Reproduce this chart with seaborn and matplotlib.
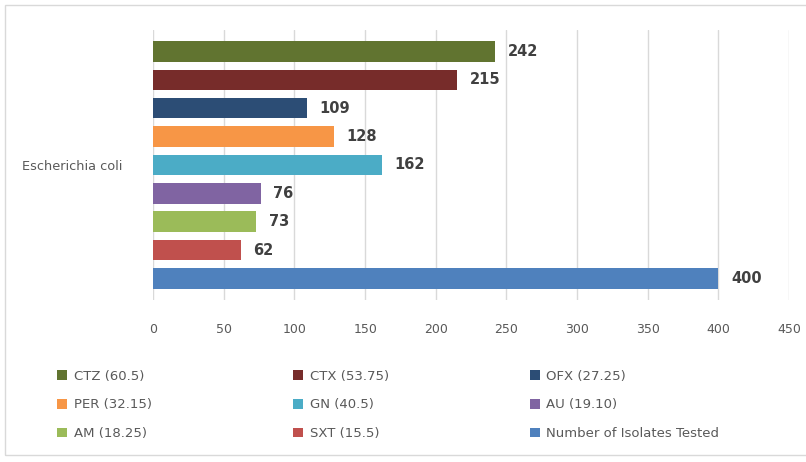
import matplotlib
matplotlib.use("Agg")
import matplotlib.pyplot as plt
import pandas as pd
import seaborn as sns
from matplotlib.patches import Rectangle

sns.set_style("white")
plt.rcParams["font.family"] = ["DejaVu Sans"]

organism = "Escherichia coli"
series = [
    "CTZ (60.5)", "CTX (53.75)", "OFX (27.25)",
    "PER (32.15)", "GN (40.5)", "AU (19.10)",
    "AM (18.25)", "SXT (15.5)", "Number of Isolates Tested",
]
values = [242, 215, 109, 128, 162, 76, 73, 62, 400]
colors = [
    "#617430", "#772C2A", "#2C4D75",
    "#F79646", "#4BACC6", "#8064A2",
    "#9BBB59", "#C0504D", "#4F81BD",
]

df = pd.DataFrame({"organism": organism, "series": series, "value": values})

fig = plt.figure(figsize=(8.06, 4.62), dpi=100)
ax = fig.add_axes([0.19, 0.351, 0.789, 0.584])

sns.barplot(
    data=df, x="value", y="organism", hue="series",
    hue_order=series, palette=colors, orient="h",
    width=0.947, gap=0.28, ax=ax, saturation=1, linewidth=0,
)

ax.set_xlim(0, 450)
ax.set_xticks(range(0, 451, 50))
ax.grid(axis="x", color="#d9d9d9", linewidth=1)
ax.set_axisbelow(True)
for s in ax.spines.values():
    s.set_visible(False)
ax.set_xlabel("")
ax.set_ylabel("")
ax.tick_params(axis="x", colors="#595959", labelsize=9, length=0, pad=17)
ax.tick_params(axis="y", colors="#595959", labelsize=9.3, length=0, pad=22)

for cont in ax.containers:
    ax.bar_label(cont, padding=9, fontsize=10.5, color="#404040", fontweight="semibold")

handles, labels = ax.get_legend_handles_labels()
ax.get_legend().remove()
order = [0, 3, 6, 1, 4, 7, 2, 5, 8]
fig.legend(
    [handles[i] for i in order], [labels[i] for i in order],
    ncol=3, loc="upper left", bbox_to_anchor=(0.063, 0.214),
    frameon=False, fontsize=9.5, labelcolor="#595959",
    handlelength=0.75, handleheight=0.75, handletextpad=0.5,
    columnspacing=10.7, labelspacing=1.19, borderpad=0,
)

fig.patches.append(Rectangle((5 / 806, 7 / 462), 1, 1 - 12 / 462,
                             transform=fig.transFigure, fill=False,
                             edgecolor="#d9d9d9", linewidth=1))

fig.savefig("out.png", dpi=100)
